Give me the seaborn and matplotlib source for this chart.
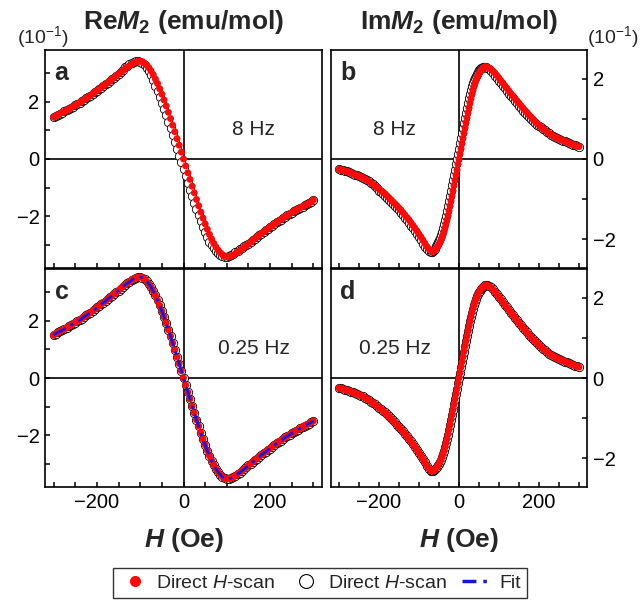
import matplotlib
matplotlib.use("Agg")
import matplotlib.pyplot as plt
import seaborn as sns
from matplotlib.lines import Line2D
from matplotlib.ticker import MultipleLocator

# --- field grids (Oe) ---
H_re = [-300, -295, -290, -285, -280, -275, -270, -265, -260, -255,
        -250, -245, -240, -235, -230, -225, -220, -215, -210, -205,
        -200, -195, -190, -185, -180, -175, -170, -165, -160, -155,
        -150, -145, -140, -135, -130, -125, -120, -115, -110, -105,
        -100, -95, -90, -85, -80, -75, -70, -65, -60, -55,
        -50, -45, -40, -35, -30, -25, -20, -15, -10, -5,
        0,
        5, 10, 15, 20, 25, 30, 35, 40, 45, 50,
        55, 60, 65, 70, 75, 80, 85, 90, 95, 100,
        105, 110, 115, 120, 125, 130, 135, 140, 145, 150,
        155, 160, 165, 170, 175, 180, 185, 190, 195, 200,
        205, 210, 215, 220, 225, 230, 235, 240, 245, 250,
        255, 260, 265, 270, 275, 280, 285, 290, 295, 300]

H_im = [-300, -295, -290, -285, -280, -275, -270, -265, -260, -255,
        -250, -245, -240, -235, -230, -225, -220, -215, -210, -205,
        -200, -195, -190, -185, -180, -175, -170, -165, -160, -155,
        -150, -145, -140, -135, -130, -125, -120, -115, -110, -105,
        -100, -95, -90, -85, -80, -75, -70,
        -67.5, -65, -62.5, -60, -57.5, -55, -52.5, -50, -47.5, -45,
        -42.5, -40, -37.5, -35, -32.5, -30, -27.5, -25, -22.5, -20,
        -17.5, -15, -12.5, -10, -7.5, -5, -2.5, 0, 2.5, 5,
        7.5, 10, 12.5, 15, 17.5, 20, 22.5, 25, 27.5, 30,
        32.5, 35, 37.5, 40, 42.5, 45, 47.5, 50, 52.5, 55,
        57.5, 60, 62.5, 65, 67.5,
        70, 75, 80, 85, 90, 95, 100, 105, 110, 115,
        120, 125, 130, 135, 140, 145, 150, 155, 160, 165,
        170, 175, 180, 185, 190, 195, 200, 205, 210, 215,
        220, 225, 230, 235, 240, 245, 250, 255, 260, 265,
        270, 275, 280, 285, 290, 295, 300]

# --- Re M2, 8 Hz (units of 1e-1 emu/mol) ---
re_a_filled = [1.46, 1.50, 1.54, 1.58, 1.62, 1.66, 1.70, 1.74, 1.78, 1.83,
               1.87, 1.92, 1.96, 2.01, 2.06, 2.11, 2.16, 2.21, 2.27, 2.32,
               2.38, 2.43, 2.49, 2.55, 2.60, 2.66, 2.72, 2.78, 2.84, 2.90,
               2.96, 3.02, 3.08, 3.14, 3.20, 3.25, 3.30, 3.35, 3.38, 3.40,
               3.41, 3.39, 3.34, 3.27, 3.18, 3.07, 2.94, 2.79, 2.63, 2.45,
               2.26, 2.06, 1.85, 1.63, 1.41, 1.18, 0.95, 0.71, 0.48, 0.24,
               0.00,
               -0.24, -0.48, -0.71, -0.95, -1.18, -1.41, -1.63, -1.85, -2.06, -2.26,
               -2.45, -2.63, -2.79, -2.94, -3.07, -3.18, -3.27, -3.34, -3.39, -3.41,
               -3.40, -3.38, -3.35, -3.30, -3.25, -3.20, -3.14, -3.08, -3.02, -2.96,
               -2.90, -2.84, -2.78, -2.72, -2.66, -2.60, -2.55, -2.49, -2.43, -2.38,
               -2.32, -2.27, -2.21, -2.16, -2.11, -2.06, -2.01, -1.96, -1.92, -1.87,
               -1.83, -1.78, -1.74, -1.70, -1.66, -1.62, -1.58, -1.54, -1.50, -1.43]

re_a_open = [1.46, 1.50, 1.54, 1.58, 1.62, 1.66, 1.70, 1.74, 1.78, 1.83,
             1.87, 1.92, 1.96, 2.01, 2.06, 2.11, 2.16, 2.21, 2.27, 2.32,
             2.38, 2.43, 2.49, 2.55, 2.60, 2.66, 2.72, 2.78, 2.84, 2.90,
             2.98, 3.05, 3.12, 3.19, 3.25, 3.30, 3.35, 3.38, 3.40, 3.41,
             3.39, 3.34, 3.27, 3.18, 3.07, 2.94, 2.76, 2.56, 2.37, 2.17,
             1.96, 1.74, 1.52, 1.30, 1.07, 0.83, 0.60, 0.36, 0.12, -0.12,
             -0.36,
             -0.60, -0.83, -1.07, -1.30, -1.52, -1.74, -1.96, -2.17, -2.37, -2.56,
             -2.73, -2.88, -3.01, -3.12, -3.20, -3.27, -3.34, -3.39, -3.41, -3.40,
             -3.38, -3.35, -3.30, -3.25, -3.20, -3.14, -3.10, -3.05, -3.01, -2.96,
             -2.90, -2.84, -2.78, -2.72, -2.66, -2.60, -2.55, -2.49, -2.43, -2.38,
             -2.32, -2.27, -2.21, -2.16, -2.11, -2.06, -2.01, -1.96, -1.92, -1.87,
             -1.83, -1.78, -1.74, -1.70, -1.66, -1.62, -1.58, -1.54, -1.50, -1.43]

# --- Re M2, 0.25 Hz ---
re_c_filled = [1.49, 1.55, 1.59, 1.63, 1.67, 1.71, 1.75, 1.80, 1.84, 1.89,
               1.93, 1.98, 2.02, 2.07, 2.13, 2.18, 2.23, 2.28, 2.34, 2.39,
               2.46, 2.51, 2.57, 2.63, 2.68, 2.75, 2.81, 2.87, 2.93, 2.99,
               3.05, 3.12, 3.18, 3.24, 3.30, 3.35, 3.41, 3.46, 3.49, 3.51,
               3.52, 3.50, 3.45, 3.37, 3.28, 3.17, 3.03, 2.88, 2.71, 2.53,
               2.33, 2.13, 1.91, 1.68, 1.46, 1.22, 0.98, 0.73, 0.50, 0.25,
               0.00,
               -0.25, -0.50, -0.73, -0.98, -1.22, -1.46, -1.68, -1.91, -2.13, -2.33,
               -2.53, -2.71, -2.88, -3.03, -3.17, -3.28, -3.37, -3.45, -3.50, -3.52,
               -3.51, -3.49, -3.46, -3.41, -3.35, -3.30, -3.24, -3.18, -3.12, -3.05,
               -2.99, -2.93, -2.87, -2.81, -2.75, -2.68, -2.63, -2.57, -2.51, -2.46,
               -2.39, -2.34, -2.28, -2.23, -2.18, -2.13, -2.07, -2.02, -1.98, -1.93,
               -1.89, -1.84, -1.80, -1.75, -1.71, -1.67, -1.63, -1.59, -1.55, -1.50]
# both scan directions coincide at 0.25 Hz
re_c_open = re_c_filled[:]

re_c_fit = [1.49, 1.55, 1.59, 1.63, 1.67, 1.71, 1.75, 1.80, 1.84, 1.89,
            1.93, 1.98, 2.02, 2.07, 2.13, 2.18, 2.23, 2.28, 2.34, 2.39,
            2.46, 2.51, 2.57, 2.63, 2.68, 2.75, 2.81, 2.87, 2.93, 2.99,
            3.05, 3.12, 3.18, 3.24, 3.30, 3.35, 3.41, 3.46, 3.49, 3.51,
            3.52, 3.50, 3.45, 3.37, 3.28, 3.17, 3.03, 2.88, 2.71, 2.53,
            2.33, 2.13, 1.91, 1.68, 1.46, 1.22, 0.98, 0.73, 0.50, 0.25,
            0.00,
            -0.25, -0.50, -0.73, -0.98, -1.22, -1.46, -1.68, -1.91, -2.13, -2.33,
            -2.53, -2.71, -2.88, -3.03, -3.17, -3.28, -3.37, -3.45, -3.50, -3.52,
            -3.51, -3.49, -3.46, -3.41, -3.35, -3.30, -3.24, -3.18, -3.12, -3.05,
            -2.99, -2.93, -2.87, -2.81, -2.75, -2.68, -2.63, -2.57, -2.51, -2.46,
            -2.39, -2.34, -2.28, -2.23, -2.18, -2.13, -2.07, -2.02, -1.98, -1.93,
            -1.89, -1.84, -1.80, -1.75, -1.71, -1.67, -1.63, -1.59, -1.55, -1.50]

# --- Im M2, 8 Hz ---
im_b_filled = [-0.26, -0.27, -0.28, -0.30, -0.31, -0.33, -0.35, -0.37, -0.39, -0.41,
               -0.43, -0.45, -0.47, -0.50, -0.53, -0.56, -0.59, -0.63, -0.67, -0.71,
               -0.75, -0.79, -0.83, -0.87, -0.92, -0.97, -1.02, -1.07, -1.12, -1.17,
               -1.23, -1.28, -1.34, -1.40, -1.46, -1.52, -1.59, -1.66, -1.73, -1.80,
               -1.88, -1.95, -2.03, -2.11, -2.19, -2.25, -2.29,
               -2.31, -2.31, -2.29, -2.27, -2.24, -2.21, -2.17, -2.13, -2.08, -2.02,
               -1.96, -1.89, -1.81, -1.72, -1.62, -1.52, -1.41, -1.29, -1.17, -1.04,
               -0.92, -0.79, -0.66, -0.53, -0.40, -0.27, -0.13, 0.00, 0.13, 0.26,
               0.39, 0.52, 0.65, 0.78, 0.91, 1.03, 1.16, 1.28, 1.40, 1.51,
               1.62, 1.72, 1.81, 1.89, 1.96, 2.03, 2.08, 2.13, 2.17, 2.21,
               2.24, 2.26, 2.28, 2.30, 2.30,
               2.29, 2.27, 2.24, 2.19, 2.14, 2.08, 2.02, 1.95, 1.89, 1.82,
               1.76, 1.69, 1.63, 1.57, 1.51, 1.45, 1.39, 1.33, 1.27, 1.21,
               1.16, 1.10, 1.05, 0.99, 0.94, 0.89, 0.85, 0.80, 0.76, 0.72,
               0.68, 0.64, 0.61, 0.58, 0.55, 0.52, 0.50, 0.48, 0.46, 0.44,
               0.42, 0.40, 0.38, 0.36, 0.34, 0.32, 0.31]

im_b_open = [-0.26, -0.27, -0.28, -0.30, -0.31, -0.33, -0.35, -0.37, -0.39, -0.41,
             -0.43, -0.45, -0.47, -0.50, -0.53, -0.56, -0.59, -0.63, -0.67, -0.73,
             -0.79, -0.83, -0.87, -0.92, -0.97, -1.02, -1.07, -1.12, -1.17, -1.23,
             -1.28, -1.34, -1.40, -1.46, -1.52, -1.59, -1.66, -1.73, -1.80, -1.88,
             -1.95, -2.03, -2.11, -2.19, -2.25, -2.29, -2.31,
             -2.31, -2.29, -2.27, -2.24, -2.17, -2.13, -2.08, -2.02, -1.96, -1.89,
             -1.81, -1.72, -1.62, -1.52, -1.41, -1.29, -1.17, -1.04, -0.92, -0.79,
             -0.66, -0.53, -0.40, -0.27, -0.13, 0.00, 0.13, 0.26, 0.39, 0.52,
             0.65, 0.78, 0.91, 1.03, 1.16, 1.28, 1.40, 1.51, 1.62, 1.72,
             1.81, 1.89, 1.96, 2.03, 2.08, 2.13, 2.17, 2.21, 2.24, 2.26,
             2.28, 2.29, 2.30, 2.30, 2.29,
             2.27, 2.24, 2.19, 2.14, 2.08, 2.02, 1.95, 1.89, 1.82, 1.76,
             1.69, 1.63, 1.57, 1.51, 1.45, 1.39, 1.33, 1.27, 1.21, 1.16,
             1.10, 1.05, 0.99, 0.94, 0.89, 0.85, 0.82, 0.80, 0.76, 0.72,
             0.68, 0.64, 0.61, 0.58, 0.55, 0.52, 0.50, 0.48, 0.46, 0.44,
             0.42, 0.40, 0.38, 0.36, 0.34, 0.32, 0.31]

# --- Im M2, 0.25 Hz ---
im_d_filled = [-0.25, -0.26, -0.28, -0.29, -0.31, -0.32, -0.34, -0.36, -0.38, -0.40,
               -0.42, -0.44, -0.46, -0.49, -0.52, -0.55, -0.59, -0.62, -0.66, -0.70,
               -0.74, -0.77, -0.82, -0.86, -0.91, -0.96, -1.01, -1.06, -1.11, -1.17,
               -1.22, -1.28, -1.33, -1.39, -1.45, -1.52, -1.58, -1.65, -1.72, -1.79,
               -1.87, -1.94, -2.02, -2.10, -2.19, -2.26, -2.31,
               -2.32, -2.32, -2.30, -2.28, -2.25, -2.22, -2.18, -2.14, -2.09, -2.04,
               -1.97, -1.90, -1.82, -1.73, -1.63, -1.52, -1.41, -1.29, -1.17, -1.04,
               -0.92, -0.79, -0.66, -0.53, -0.40, -0.27, -0.13, 0.00, 0.13, 0.27,
               0.40, 0.53, 0.66, 0.79, 0.92, 1.04, 1.17, 1.29, 1.41, 1.52,
               1.63, 1.73, 1.82, 1.90, 1.97, 2.04, 2.09, 2.14, 2.18, 2.22,
               2.25, 2.27, 2.29, 2.31, 2.32,
               2.31, 2.29, 2.26, 2.21, 2.15, 2.09, 2.02, 1.96, 1.89, 1.83,
               1.76, 1.70, 1.63, 1.57, 1.50, 1.44, 1.38, 1.32, 1.26, 1.20,
               1.14, 1.08, 1.03, 0.97, 0.92, 0.87, 0.82, 0.78, 0.73, 0.69,
               0.65, 0.61, 0.58, 0.55, 0.52, 0.49, 0.47, 0.45, 0.43, 0.41,
               0.39, 0.37, 0.35, 0.33, 0.31, 0.29, 0.27]
# both scan directions coincide at 0.25 Hz
im_d_open = im_d_filled[:]

freq_labels = ["8 Hz", "8 Hz", "0.25 Hz", "0.25 Hz"]
panel_letters = ["a", "b", "c", "d"]

# --- style ---
sns.set_style("white")
plt.rcParams["font.family"] = ["Liberation Sans", "DejaVu Sans"]
plt.rcParams["mathtext.fontset"] = "custom"
plt.rcParams["mathtext.rm"] = "Liberation Sans"
plt.rcParams["mathtext.it"] = "Liberation Sans:italic"
plt.rcParams["mathtext.bf"] = "Liberation Sans:bold"
plt.rcParams["mathtext.bfit"] = "Liberation Sans:italic:bold"

W, Hpx = 643, 603
fig = plt.figure(figsize=(W / 100, Hpx / 100), dpi=100)


def px_axes(x0, y0, x1, y1):
    return fig.add_axes([x0 / W, 1 - y1 / Hpx, (x1 - x0) / W, (y1 - y0) / Hpx])


ax_a = px_axes(45, 50, 322, 268)
ax_b = px_axes(331, 50, 587, 268)
ax_c = px_axes(45, 269, 322, 487)
ax_d = px_axes(331, 269, 587, 487)
axes = [ax_a, ax_b, ax_c, ax_d]

RED = "#ff0a0a"
BLUE = "#1414e6"


def draw(ax, h, open_vals, filled_vals, fit_vals=None):
    sns.scatterplot(x=h, y=open_vals, ax=ax, marker="o", s=36,
                    facecolor="white", edgecolor="black", linewidth=0.6, zorder=3)
    sns.scatterplot(x=h, y=filled_vals, ax=ax, marker="o", s=25,
                    color=RED, edgecolor="none", linewidth=0, zorder=4)
    if fit_vals is not None:
        sns.lineplot(x=h, y=fit_vals, ax=ax, color=BLUE, linewidth=2.0,
                     linestyle=(0, (5, 2, 1.2, 2)), sort=False, zorder=5)


draw(ax_a, H_re, re_a_open, re_a_filled)
draw(ax_b, H_im, im_b_open, im_b_filled)
draw(ax_c, H_re, re_c_open, re_c_filled, re_c_fit)
draw(ax_d, H_im, im_d_open, im_d_filled)

for i, ax in enumerate(axes):
    left = i in (0, 2)
    ax.set_xlim(-320, 320)
    ax.set_ylim((-3.8, 3.8) if left else (-2.72, 2.72))
    ax.axhline(0, color="black", lw=1.2, zorder=1)
    ax.axvline(0, color="black", lw=1.2, zorder=1)
    for sp in ax.spines.values():
        sp.set_linewidth(1.2)
        sp.set_color("black")
    ax.xaxis.set_major_locator(MultipleLocator(200))
    ax.xaxis.set_minor_locator(MultipleLocator(50))
    ax.yaxis.set_major_locator(MultipleLocator(2))
    ax.yaxis.set_minor_locator(MultipleLocator(1))
    ax.tick_params(which="both", direction="in", length=3.5, width=1.1,
                   labelsize=14.5, colors="black", pad=4)
    ax.tick_params(axis="x", which="both", bottom=True, top=False,
                   labelbottom=(i >= 2))
    if left:
        ax.tick_params(axis="y", which="both", left=True, right=False,
                       labelleft=True, labelright=False)
    else:
        ax.tick_params(axis="y", which="both", left=False, right=True,
                       labelleft=False, labelright=True)
    ax.set_xlabel("")
    ax.set_ylabel("")
    ax.text(0.035, 0.895, panel_letters[i], transform=ax.transAxes,
            fontsize=18, fontweight="bold", ha="left", va="center")
    ax.text(0.753 if left else 0.248, 0.634, freq_labels[i],
            transform=ax.transAxes, fontsize=15, ha="center", va="center")

fig.text(183.5 / W, 1 - 22 / Hpx, r"Re$\mathbfit{M}_{\mathbf{2}}$ (emu/mol)",
         fontsize=19, fontweight="bold", ha="center", va="center")
fig.text(459 / W, 1 - 22 / Hpx, r"Im$\mathbfit{M}_{\mathbf{2}}$ (emu/mol)",
         fontsize=19, fontweight="bold", ha="center", va="center")
fig.text(43 / W, 1 - 37 / Hpx, r"(10$^{-1}$)", fontsize=14,
         ha="center", va="center")
fig.text(613 / W, 1 - 37 / Hpx, r"(10$^{-1}$)", fontsize=14,
         ha="center", va="center")
fig.text(184 / W, 1 - 540 / Hpx, r"$\mathbfit{H}$ (Oe)", fontsize=19,
         fontweight="bold", ha="center", va="center")
fig.text(459 / W, 1 - 540 / Hpx, r"$\mathbfit{H}$ (Oe)", fontsize=19,
         fontweight="bold", ha="center", va="center")

handles = [
    Line2D([], [], marker="o", linestyle="", color=RED, markersize=7),
    Line2D([], [], marker="o", linestyle="", markerfacecolor="white",
           markeredgecolor="black", markeredgewidth=0.8, markersize=10),
    Line2D([], [], color=BLUE, linewidth=2.5, linestyle=(0, (4, 2, 1, 2))),
]
labels = [r"Direct $\mathit{H}$-scan", r"Direct $\mathit{H}$-scan", "Fit"]
leg = fig.legend(handles, labels, loc="center", bbox_to_anchor=(320 / W, 1 - 583 / Hpx),
                 ncol=3, frameon=True, fancybox=False, edgecolor="black",
                 fontsize=14, handlelength=1.6, handletextpad=0.3,
                 columnspacing=0.8, borderpad=0.3)
leg.get_frame().set_linewidth(1.0)

fig.savefig("out.png", dpi=100)
